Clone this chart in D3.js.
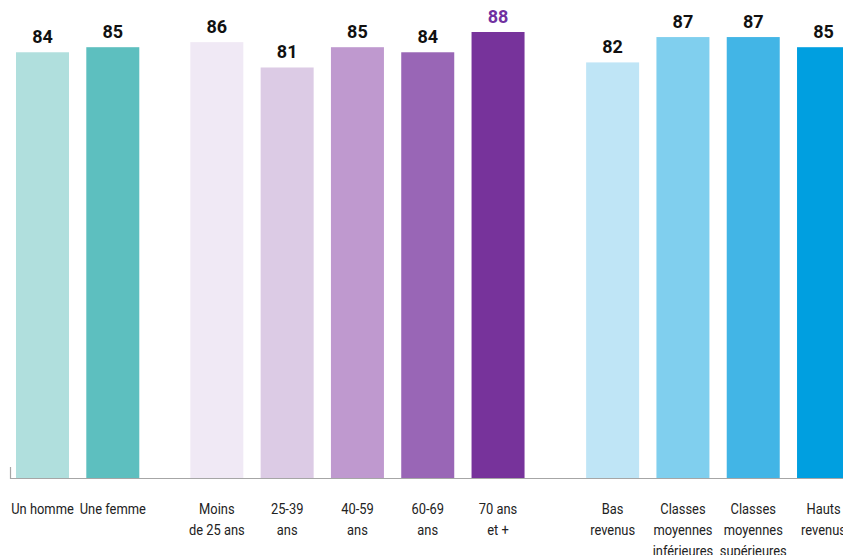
<!DOCTYPE html>
<html>
<head>
<meta charset="utf-8">
<script src="https://cdn.jsdelivr.net/npm/d3@7"></script>
<style>
  body { margin: 0; background: #fff; }
  svg { display: block; }
  text { font-family: Roboto, "Noto Sans", sans-serif; }
</style>
</head>
<body>
<div id="chart"></div>
<script>
// categories, each one split in lines as on the picture
const categories = [
  ["Un homme"], ["Une femme"],
  ["Moins", "de 25 ans"], ["25-39", "ans"], ["40-59", "ans"], ["60-69", "ans"], ["70 ans", "et +"],
  ["Bas", "revenus"], ["Classes", "moyennes", "inférieures"], ["Classes", "moyennes", "supérieures"], ["Hauts", "revenus"]
];
const values = [84, 85, 86, 81, 85, 84, 88, 82, 87, 87, 85];
const groups = [0, 0, 1, 1, 1, 1, 1, 2, 2, 2, 2];
const colors = [
  "#b0dfdd", "#5dbfbf",
  "#f0e9f5", "#dccbe5", "#bf99cf", "#9966b6", "#77339b",
  "#bfe5f6", "#80cfee", "#42b5e6", "#009fe0"
];
const labelColors = ["#111", "#111", "#111", "#111", "#111", "#111", "#7030a0", "#111", "#111", "#111", "#111"];

// extra room between the three groups (in bar slots)
const groupOffset = [0, 0.48, 1.11];

const WIDTH = 843, HEIGHT = 555;
const BASE = 478;

const svg = d3.select("#chart")
  .append("svg")
  .attr("width", WIDTH)
  .attr("height", HEIGHT);

// slot position -> left edge of bar
const x = d3.scaleLinear()
  .domain([0, 1])
  .range([16, 86.3]);
const barWidth = 53;

const y = d3.scaleLinear()
  .domain([0, 88])
  .range([BASE, 32]);

const slot = (d, i) => i + groupOffset[groups[i]];

// baseline
const axis = d3.axisBottom(d3.scaleLinear().range([10, 880]))
  .tickValues([])
  .tickSizeOuter(-11);
svg.append("g")
  .attr("transform", `translate(0,${BASE})`)
  .call(axis)
  .call(g => g.select(".domain").attr("stroke", "#a6a6a6").attr("stroke-width", 1.2));

// bars
svg.selectAll("rect.bar")
  .data(values)
  .enter().append("rect")
  .attr("class", "bar")
  .attr("x", (d, i) => x(slot(d, i)))
  .attr("y", d => y(d))
  .attr("width", barWidth)
  .attr("height", d => BASE - y(d))
  .attr("fill", (d, i) => colors[i]);

// value labels
svg.selectAll("text.value")
  .data(values)
  .enter().append("text")
  .attr("class", "value")
  .attr("x", (d, i) => x(slot(d, i)) + barWidth / 2)
  .attr("y", d => y(d) - 9)
  .attr("text-anchor", "middle")
  .attr("font-size", 18)
  .attr("font-weight", "bold")
  .attr("fill", (d, i) => labelColors[i])
  .text(d => d);

// category labels
const cat = svg.selectAll("g.cat")
  .data(categories)
  .enter().append("g")
  .attr("class", "cat")
  .attr("transform", (d, i) => `translate(${x(slot(d, i)) + barWidth / 2},514) scale(0.86,1)`);

cat.selectAll("text")
  .data(d => d)
  .enter().append("text")
  .attr("y", (d, j) => j * 21)
  .attr("text-anchor", "middle")
  .attr("font-size", 15)
  .attr("fill", "#222")
  .text(d => d);
</script>
</body>
</html>
